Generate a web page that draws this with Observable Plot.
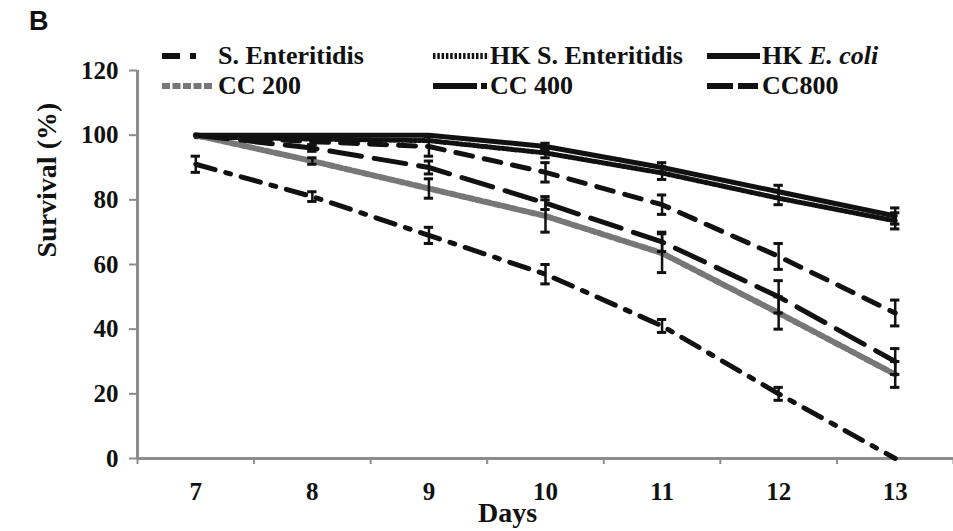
<!DOCTYPE html>
<html><head><meta charset="utf-8">
<script src="https://cdn.jsdelivr.net/npm/d3@7"></script>
<script src="https://cdn.jsdelivr.net/npm/@observablehq/plot@0.6"></script>
<style>
body{margin:0;background:#fff;}
#wrap{position:relative;width:953px;height:531px;overflow:hidden;font-family:"Liberation Serif","Tinos","Times New Roman","DejaVu Serif",serif;}
#panel{position:absolute;left:29px;top:6px;font:bold 27px "Liberation Sans",Arial,sans-serif;color:#111;}
.leg{position:absolute;display:flex;align-items:center;font-weight:bold;font-size:26px;color:#111;white-space:nowrap;line-height:1;height:30px;font-family:"Liberation Serif","Tinos","Times New Roman","DejaVu Serif",serif;}
.leg svg{display:block;flex:none;}
svg text{font-family:"Liberation Serif","Tinos","Times New Roman","DejaVu Serif",serif;}
</style></head><body>
<div id="wrap"><div id="chart"></div><div id="panel">B</div><div id="legend"></div></div>
<script>
// ---- data ----
const days = [7, 8, 9, 10, 11, 12, 13];
const seriesNames = ["S. Enteritidis", "HK S. Enteritidis", "HK E. coli", "CC 200", "CC 400", "CC800"];
const sEnteritidis    = [91, 81, 69, 57, 41, 20, 0];
const hkSEnteritidis  = [99.5, 98.8, 98.3, 94.5, 88.3, 80.5, 73.5];
const hkEcoli         = [100, 100, 100, 96.5, 90, 82.5, 75];
const cc200           = [100, 92, 83.5, 75, 63.5, 45, 26];
const cc400           = [100, 96, 90, 79, 67, 50, 30];
const cc800           = [100, 98, 96.5, 88.5, 78.5, 62.5, 45];
const sEnteritidisErr   = [2.5, 1.5, 2.5, 3, 2, 2, 0];
const hkSEnteritidisErr = [0, 0, 0, 1.5, 2, 2, 2.5];
const hkEcoliErr        = [0, 0, 0, 1, 1.5, 2, 2.5];
const cc200Err          = [0, 1, 3, 5, 6, 5, 4];
const cc400Err          = [0, 1, 2, 2, 3, 5, 4];
const cc800Err          = [0, 1, 3, 3, 3, 4, 4];
const yTicks = [0, 20, 40, 60, 80, 100, 120];
const xLabel = "Days";
const yLabel = "Survival (%)";

// ---- table built from the arrays ----
const values = [sEnteritidis, hkSEnteritidis, hkEcoli, cc200, cc400, cc800];
const errs = [sEnteritidisErr, hkSEnteritidisErr, hkEcoliErr, cc200Err, cc400Err, cc800Err];
const rows = [];
seriesNames.forEach((s, i) => days.forEach((d, j) => rows.push({series: s, day: d, value: values[i][j], err: errs[i][j]})));
const errRows = rows.filter(d => d.err > 0);

// ---- styles ----
const serif = "'Liberation Serif', Tinos, 'Times New Roman', 'DejaVu Serif', serif";
const styles = {
  "S. Enteritidis":    {stroke: "#111", dash: "20,11,5,11", w: 5},
  "HK S. Enteritidis": {stroke: "#111", dash: "2.2,2", w: 5},
  "HK E. coli":        {stroke: "#111", dash: null, w: 5},
  "CC 200":            {stroke: "#777", dash: "6,3", w: 6},
  "CC 400":            {stroke: "#111", dash: "32,13", w: 5},
  "CC800":             {stroke: "#111", dash: "17,12", w: 5}
};
const axisGray = "#8c8c8c";
const bounds = days.map(d => d - 0.5).concat([days[days.length - 1] + 0.5]);

const lineMarks = seriesNames.map(s => Plot.line(rows.filter(d => d.series === s), {
  x: "day", y: "value", stroke: styles[s].stroke, strokeWidth: styles[s].w,
  strokeDasharray: styles[s].dash, strokeLinejoin: "round"
}));

const chart = Plot.plot({
  width: 953, height: 531,
  marginLeft: 137, marginRight: 0, marginTop: 70, marginBottom: 73,
  x: {domain: [bounds[0], bounds[bounds.length - 1]]},
  y: {domain: [0, 120]},
  style: {fontFamily: serif, fontWeight: "bold", fontSize: "25px", color: "#111", background: "transparent"},
  marks: [
    Plot.axisY({ticks: yTicks, tickSize: 8, tickPadding: 11, stroke: axisGray, strokeWidth: 2, label: null, fontSize: 25}),
    Plot.axisX({ticks: bounds, tickSize: 6, tickFormat: () => "", stroke: axisGray, strokeWidth: 2, label: null}),
    Plot.axisX({ticks: days, tickSize: 0, tickPadding: 24, tickFormat: d => String(d), label: null, fontSize: 25}),
    Plot.ruleY([0], {stroke: axisGray, strokeWidth: 3}),
    Plot.ruleX([bounds[0]], {y1: 0, y2: 120, stroke: axisGray, strokeWidth: 3}),
    ...lineMarks,
    Plot.ruleX(errRows, {x: "day", y1: d => d.value - d.err, y2: d => d.value + d.err, stroke: "#111", strokeWidth: 2.5}),
    Plot.ruleY(errRows, {y: d => d.value + d.err, x1: d => d.day - 0.04, x2: d => d.day + 0.04, stroke: "#111", strokeWidth: 3}),
    Plot.ruleY(errRows, {y: d => d.value - d.err, x1: d => d.day - 0.04, x2: d => d.day + 0.04, stroke: "#111", strokeWidth: 3}),
    Plot.text([yLabel], {text: d => d, frameAnchor: "left", rotate: -90, dx: -90, dy: -7, fontSize: 28, fontWeight: "bold"}),
    Plot.text([xLabel], {text: d => d, frameAnchor: "bottom", dx: -38, dy: 63, fontSize: 28, fontWeight: "bold"})
  ]
});
document.getElementById("chart").appendChild(chart);

// ---- legend (HTML overlay) ----
const legendCols = [160, 432, 706];
const legendRows = [41, 71];
const swatchW = [58, 58, 56];
const legendSw = {
  "S. Enteritidis":    [{x1: 2, x2: 40, dash: "18,10,6,40", c: "#111"}],
  "HK S. Enteritidis": [{x1: 1, x2: 57, dash: "2.5,1.8", c: "#111"}],
  "HK E. coli":        [{x1: 1, x2: 54, dash: null, c: "#111"}],
  "CC 200":            [{x1: 2, x2: 53, dash: "8,2.5", c: "#777"}],
  "CC 400":            [{x1: 1, x2: 56, dash: "44,4,6,20", c: "#111"}],
  "CC800":             [{x1: 1, x2: 52, dash: "26,5,20,30", c: "#111"}]
};
const legendHtml = {"HK E. coli": "HK <i>E. coli</i>"};
const leg = document.getElementById("legend");
seriesNames.forEach((s, i) => {
  const col = i % 3, row = Math.floor(i / 3);
  const div = document.createElement("div");
  div.className = "leg";
  div.style.left = legendCols[col] + "px";
  div.style.top = legendRows[row] + "px";
  const w = swatchW[col];
  const lines = legendSw[s].map(l => `<line x1="${l.x1}" x2="${l.x2}" y1="15" y2="15" stroke="${l.c}" stroke-width="6" ${l.dash ? `stroke-dasharray="${l.dash}"` : ""}/>`).join("");
  div.innerHTML = `<svg width="${w}" height="30">${lines}</svg><span>${legendHtml[s] || s}</span>`;
  leg.appendChild(div);
});
</script>
</body></html>
